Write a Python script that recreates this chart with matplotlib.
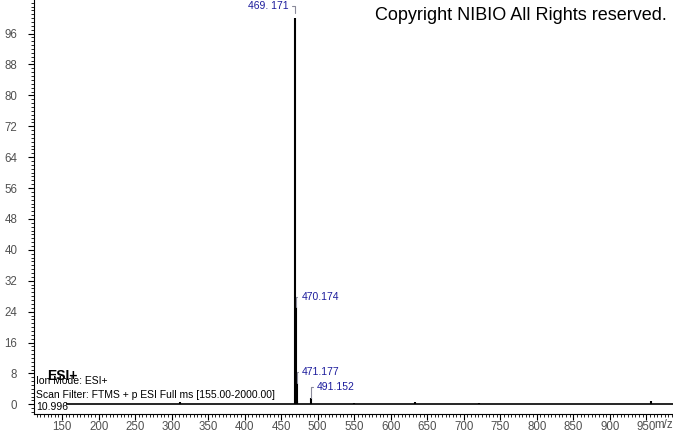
import matplotlib
matplotlib.use("Agg")
import matplotlib.pyplot as plt
from matplotlib.ticker import MultipleLocator

# スペクトルのピーク (m/z, 相対強度)
mz = [312.0, 469.171, 470.174, 471.177, 472.18, 491.152, 550.0, 633.0, 720.5, 957.0]
intensity = [0.6, 100.0, 25.2, 5.6, 0.8, 1.7, 0.3, 0.7, 0.4, 0.9]

# ラベル付きピーク
label_mz = [469.171, 470.174, 471.177, 491.152]
label_int = [100.0, 25.2, 5.6, 1.7]
label_text = ["469. 171", "470.174", "471.177", "491.152"]
label_side = ["left", "right", "right", "right"]

scan_range = [155.0, 2000.0]

plt.rcParams['font.family'] = ['Liberation Sans', 'DejaVu Sans']

fig = plt.figure(figsize=(6.73, 4.33), dpi=100)
ax = fig.add_axes([34 / 673, 1 - 414 / 433, 1 - 34 / 673, 414 / 433])

ax.hlines(0, scan_range[0], scan_range[1], color='black', lw=1.2)
ax.vlines(mz, 0, intensity, color='black', lw=1.5)

ax.set_xlim(111.5, 986.5)
ax.set_ylim(-2.5, 104.7)

ax.xaxis.set_minor_locator(MultipleLocator(5))
ax.yaxis.set_minor_locator(MultipleLocator(1))
ax.set_xticks(range(150, 951, 50))
ax.set_yticks(range(0, 97, 8))

ax.tick_params(which='major', length=4, width=0.8, labelsize=8.3,
               labelcolor='#505050')
ax.tick_params(which='minor', length=2, width=0.6)
ax.tick_params(axis='y', which='major', pad=8)
ax.tick_params(axis='x', which='major', pad=0.8)

for s in ['top', 'right']:
    ax.spines[s].set_visible(False)

# ピークラベル
for x, y, t, side in zip(label_mz, label_int, label_text, label_side):
    if side == 'left':
        ax.annotate(t, xy=(x, y), xytext=(-5, 8.5), textcoords='offset points',
                    ha='right', va='center', fontsize=7.5, color='#1c1c9c',
                    arrowprops=dict(arrowstyle='-', color='#8a8a9a', lw=0.8,
                                    connectionstyle='angle,angleA=0,angleB=90,rad=0',
                                    shrinkA=1, shrinkB=4))
    else:
        ax.annotate(t, xy=(x, y), xytext=(4, 7.5), textcoords='offset points',
                    ha='left', va='center', fontsize=7.5, color='#1c1c9c',
                    arrowprops=dict(arrowstyle='-', color='#8a8a9a', lw=0.8,
                                    connectionstyle='angle,angleA=0,angleB=90,rad=0',
                                    shrinkA=1, shrinkB=0))

fig.text(667 / 673, 1 - 15 / 433, "Copyright NIBIO All Rights reserved.",
         ha='right', va='center', fontsize=13)
fig.text(664 / 673, 1 - 425 / 433, "m/z", ha='center', va='center',
         fontsize=8.3, color='#505050')

fig.text(47 / 673, 1 - 376 / 433, "ESI+", ha='left', va='center',
         fontsize=10, fontweight='bold')
fig.text(36 / 673, 1 - 381 / 433, "Ion Mode: ESI+", ha='left', va='center', fontsize=7.5)
fig.text(36 / 673, 1 - 395 / 433, "Scan Filter: FTMS + p ESI Full ms [155.00-2000.00]",
         ha='left', va='center', fontsize=7.5)
fig.text(36 / 673, 1 - 407 / 433, "10.996", ha='left', va='center', fontsize=7.5)

fig.savefig("out.png", dpi=100)
